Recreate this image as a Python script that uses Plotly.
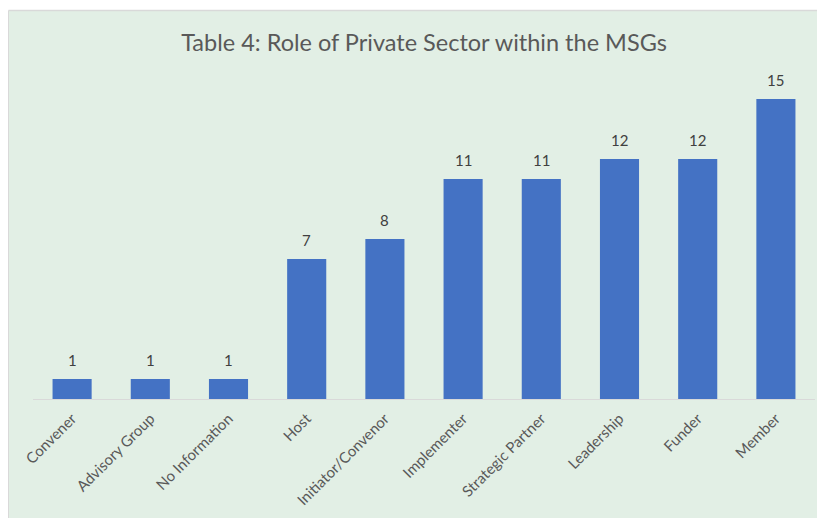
import plotly.graph_objects as go

categories = ["Convener", "Advisory Group", "No Information", "Host", "Initiator/Convenor",
              "Implementer", "Strategic Partner", "Leadership", "Funder", "Member"]
values = [1, 1, 1, 7, 8, 11, 11, 12, 12, 15]

off = 8  # page margin of the browser body
W, H = 825 - off, 518 - off
ml, mr, mt, mb = 33 - off, 10, 79 - off, 518 - 399
pw, ph = W - ml - mr, H - mt - mb
green = "#E2EFE5"

fig = go.Figure(go.Bar(
    x=categories, y=values,
    marker=dict(color="#4472C4", line=dict(width=0)),
    hoverinfo="x+y",
))

for c, v in zip(categories, values):
    fig.add_annotation(x=c, y=v, text=str(v), showarrow=False,
                       yanchor="bottom", yshift=8,
                       font=dict(family="Lato, sans-serif", size=15, color="#404040"))

gx0, gx1 = (0.5 - ml) / pw, (W + 20 - ml) / pw
gy0, gy1 = -(mb + 20) / ph, 1 + (mt - 2.5) / ph
fig.add_shape(type="rect", xref="paper", yref="paper",
              x0=gx0, x1=gx1, y0=gy0, y1=gy1,
              fillcolor=green, line=dict(width=0), layer="below")
fig.add_shape(type="line", xref="paper", yref="paper",
              x0=gx0, x1=gx1, y0=gy1, y1=gy1,
              line=dict(color="#D9D9D9", width=1.5), layer="below")
fig.add_shape(type="line", xref="paper", yref="paper",
              x0=gx0, x1=gx0, y0=gy0, y1=gy1,
              line=dict(color="#D9D9D9", width=1), layer="below")

fig.update_layout(
    width=W, height=H,
    margin=dict(l=ml, r=mr, t=mt, b=mb),
    paper_bgcolor="white", plot_bgcolor=green,
    bargap=0.5,
    showlegend=False,
    title=dict(text="Table 4: Role of Private Sector within the MSGs",
               x=0.5, xref="paper", y=1 - (43 - off) / H, yanchor="middle",
               font=dict(family="Lato, sans-serif", size=23.5, color="#595959")),
    xaxis=dict(showline=True, linecolor="#D9D9D9", linewidth=1,
               ticks="outside", ticklen=4, tickcolor=green,
               tickangle=-45, showgrid=False,
               tickfont=dict(family="Lato, sans-serif", size=15, color="#595959")),
    yaxis=dict(range=[0, 16], visible=False, showgrid=False, zeroline=False),
)

fig.write_html("out.html")
